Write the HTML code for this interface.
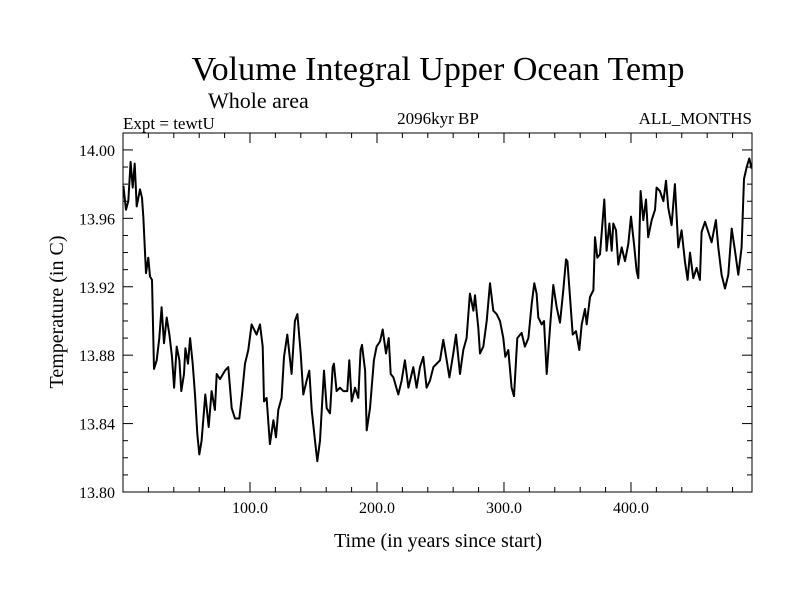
<!DOCTYPE html>
<html><head><meta charset="utf-8"><style>
body{margin:0;background:#fff}
svg{display:block;font-family:"Liberation Serif",serif}
</style></head><body>
<svg id="chart" width="800" height="600">
<text x="438" y="80" font-size="34" text-anchor="middle">Volume Integral Upper Ocean Temp</text>
<text x="208" y="108" font-size="22">Whole area</text>
<text x="123" y="129" font-size="17">Expt = tewtU</text>
<text x="438" y="124" font-size="17" text-anchor="middle">2096kyr BP</text>
<text x="752" y="124" font-size="17" text-anchor="end">ALL_MONTHS</text>
<text x="0" y="0" font-size="20" text-anchor="middle" transform="translate(63,312) rotate(-90)">Temperature (in C)</text>
<text x="438" y="547" font-size="20" text-anchor="middle">Time (in years since start)</text>
<g id="axes"></g>
<path id="series" fill="none" stroke="#000" stroke-width="2" stroke-linejoin="round"></path>
<rect x="123" y="133" width="629" height="359" fill="none" stroke="#000" stroke-width="1"></rect>
</svg>
<script>
const years = [0.3,2.4,4.2,6.0,7.6,9.2,10.8,13.4,15.0,16.0,18.1,19.9,21.3,22.8,24.4,26.5,28.6,30.4,32.3,34.4,36.5,38.6,40.2,42.3,44.4,45.9,48.0,49.1,51.2,52.8,54.9,56.7,58.5,60.1,61.9,64.8,67.5,69.8,72.4,73.8,76.4,80.3,82.9,85.6,88.2,91.6,93.7,96.1,98.7,101.3,105.2,107.9,110.0,111.0,113.1,115.7,118.4,120.5,122.3,124.9,126.8,129.4,132.8,135.4,137.3,139.9,142.0,144.6,146.7,148.6,151.2,153.0,155.1,158.3,160.4,163.0,165.1,166.1,168.2,170.9,173.5,176.6,178.2,180.1,182.7,185.3,187.1,188.2,190.6,191.9,194.5,197.6,199.7,202.4,204.5,207.1,209.2,210.8,212.9,216.8,219.4,222.0,224.7,228.6,231.2,233.9,236.5,239.1,241.7,244.4,249.6,252.2,254.9,257.0,260.1,262.2,265.4,268.0,270.6,273.2,275.9,277.2,279.8,281.1,283.7,286.4,289.0,291.6,294.2,296.9,299.5,301.0,303.4,306.0,307.9,310.5,313.9,316.5,319.2,321.8,323.9,325.7,327.0,329.7,331.5,333.6,336.2,338.8,341.5,344.1,346.7,348.8,349.9,352.0,354.1,356.7,359.3,361.2,363.8,365.1,367.7,370.4,371.7,373.5,375.6,377.7,379.0,380.8,383.0,384.8,386.1,388.2,390.0,392.7,395.3,397.9,400.0,402.4,404.5,405.8,407.6,409.7,411.8,413.6,416.3,418.9,420.2,422.8,425.5,427.6,429.4,432.0,434.6,437.3,439.9,442.5,444.6,446.5,449.1,451.7,454.3,455.6,458.3,460.9,463.5,466.9,468.8,471.4,474.0,476.6,479.3,481.9,484.5,487.1,489.0,491.1,493.2,495.0];
const temps = [13.979,13.965,13.970,13.993,13.978,13.992,13.967,13.977,13.972,13.961,13.928,13.937,13.926,13.924,13.872,13.877,13.890,13.908,13.887,13.902,13.892,13.879,13.861,13.885,13.877,13.859,13.869,13.884,13.875,13.890,13.875,13.857,13.834,13.822,13.830,13.857,13.838,13.859,13.848,13.869,13.866,13.871,13.873,13.849,13.843,13.843,13.857,13.875,13.883,13.898,13.892,13.898,13.885,13.853,13.855,13.828,13.842,13.832,13.848,13.855,13.879,13.892,13.869,13.900,13.904,13.881,13.857,13.865,13.871,13.848,13.830,13.818,13.830,13.871,13.849,13.846,13.873,13.875,13.859,13.861,13.859,13.859,13.877,13.853,13.861,13.855,13.883,13.886,13.871,13.836,13.849,13.877,13.885,13.888,13.895,13.881,13.890,13.869,13.867,13.857,13.865,13.877,13.861,13.873,13.861,13.873,13.879,13.861,13.865,13.873,13.877,13.889,13.877,13.867,13.881,13.892,13.869,13.883,13.890,13.916,13.906,13.915,13.896,13.881,13.885,13.900,13.922,13.906,13.904,13.900,13.890,13.879,13.883,13.861,13.856,13.890,13.893,13.885,13.890,13.910,13.922,13.916,13.902,13.898,13.900,13.869,13.896,13.921,13.908,13.899,13.918,13.936,13.935,13.914,13.892,13.894,13.883,13.898,13.907,13.898,13.914,13.918,13.949,13.937,13.939,13.959,13.971,13.941,13.957,13.941,13.957,13.953,13.933,13.943,13.935,13.945,13.961,13.945,13.929,13.925,13.976,13.959,13.971,13.949,13.959,13.965,13.978,13.976,13.970,13.982,13.966,13.956,13.980,13.943,13.953,13.935,13.924,13.940,13.925,13.931,13.924,13.952,13.958,13.952,13.946,13.959,13.943,13.927,13.919,13.927,13.954,13.941,13.927,13.943,13.983,13.990,13.995,13.989];
const yTickValues = [13.80,13.84,13.88,13.92,13.96,14.00];
const yTickLabels = ["13.80","13.84","13.88","13.92","13.96","14.00"];
const xTickValues = [100,200,300,400];
const xTickLabels = ["100.0","200.0","300.0","400.0"];

const L=123,R=752,T=133,B=492;
const X0=0,X1=495.3,Y0=13.80,Y1=14.0099;
const xs=v=>L+(v-X0)/(X1-X0)*(R-L);
const ys=v=>B-(v-Y0)/(Y1-Y0)*(B-T);
const NS="http://www.w3.org/2000/svg";
const axes=document.getElementById('axes');
function ln(x1,y1,x2,y2,name){const e=document.createElementNS(NS,'line');
e.setAttribute('x1',x1);e.setAttribute('y1',y1);e.setAttribute('x2',x2);e.setAttribute('y2',y2);
e.setAttribute('stroke','#000');e.setAttribute('stroke-width','1');


axes.appendChild(e);}
function tx(x,y,s,anchor,name){const e=document.createElementNS(NS,'text');
e.setAttribute('x',x);e.setAttribute('y',y);e.setAttribute('font-size','16');e.setAttribute('text-anchor',anchor);e.textContent=s;


axes.appendChild(e);}
// y minor ticks every 0.01
for(let v=13.80;v<=14.0001;v+=0.01){const y=ys(v);const maj=Math.abs((v-13.80)/0.04-Math.round((v-13.80)/0.04))<1e-6;const len=maj?10:5;
ln(L,y,L+len,y,'y-tick');ln(R,y,R-len,y,'y-tick-right');}
for(let v=20;v<X1;v+=20){const x=xs(v);const maj=v%100===0;const len=maj?10:5;
ln(x,B,x,B-len,'x-tick');ln(x,T,x,T+len,'x-tick-top');}
yTickValues.forEach((v,i)=>tx(L-8,ys(v)+6,yTickLabels[i],'end','y-tick-label'));
xTickValues.forEach((v,i)=>tx(xs(v),ys(Y0)+21,xTickLabels[i],'middle','x-tick-label'));
let d='';years.forEach((t,i)=>{d+=(i?'L':'M')+xs(t).toFixed(1)+','+ys(temps[i]).toFixed(1);});
document.getElementById('series').setAttribute('d',d);
</script>
</body></html>
